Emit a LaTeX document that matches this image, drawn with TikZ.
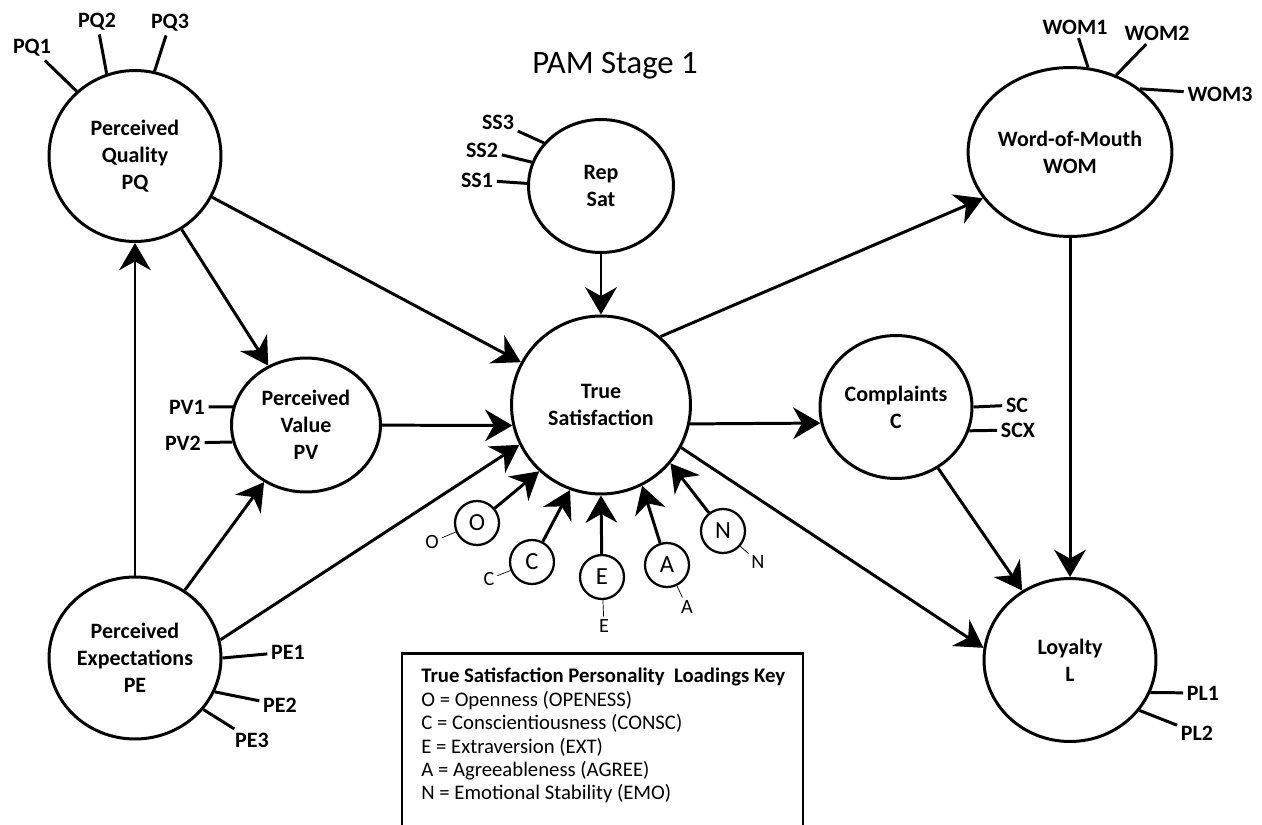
\documentclass[tikz,border=0pt]{standalone}
\usepackage{fontspec}
\setmainfont{Carlito}
\usetikzlibrary{positioning,shapes.geometric,arrows.meta}
\def\lw{1.7pt}
\tikzstyle{latent}=[draw,ellipse,line width=\lw,inner sep=0pt,align=center,font=\bfseries\fontsize{12.5}{15.4}\selectfont]
\tikzstyle{trait}=[draw,circle,line width=1.3pt,minimum size=0.88cm,inner sep=0pt,font=\fontsize{14}{16}\selectfont]
\tikzstyle{indic}=[inner sep=2pt,font=\bfseries\fontsize{12.5}{15}\selectfont]
\tikzstyle{tagtxt}=[inner sep=1.5pt,font=\fontsize{11.5}{13}\selectfont]
\newcommand{\newLatent}[4]{\node[latent,#3](#1) at #4 {#2};}
\newcommand{\newIndic}[4]{\node[indic](#1) at #3 {#2}; \draw[line width=\lw] (#1) -- (#4);}
\newcommand{\newTrait}[4]{\node[trait](tr#1) at #3 {#2}; \node[tagtxt](tg#1) at #4 {#2}; \draw[thin] (tr#1) -- (tg#1);}
\newcommand{\newPath}[3]{\draw[->,line width=\lw,#3] (#1) -- (#2);}

\begin{document}
\begin{tikzpicture}[x=0.02cm,y=-0.02cm,
      >={Stealth[length=15.5pt,width=18pt,inset=5pt]}
      ]
      \useasboundingbox (0,0) rectangle (1262,825);
      \node[font=\fontsize{18.6}{20}\selectfont] (title) at (615,66) {PAM Stage 1};
      % latent variables
      \newLatent{PQ}{Perceived\\Quality\\PQ}{minimum width=3.44cm,minimum height=3.42cm}{(135,156)}
      \newLatent{RS}{Rep\\Sat}{minimum width=2.9cm,minimum height=2.66cm}{(601,186)}
      \newLatent{TS}{True\\Satisfaction}{minimum width=3.58cm,minimum height=3.56cm}{(601,405)}
      \newLatent{PV}{Perceived\\Value\\PV}{minimum width=2.98cm,minimum height=2.68cm}{(306,425)}
      \newLatent{PE}{Perceived\\Expectations\\PE}{minimum width=3.44cm,minimum height=3.24cm}{(135,658)}
      \newLatent{WOM}{Word-of-Mouth\\WOM}{minimum width=3.42cm,minimum height=3.38cm}{(1070,152)}
      \newLatent{CO}{Complaints\\C}{minimum width=3.04cm,minimum height=2.86cm}{(896,407)}
      \newLatent{LO}{Loyalty\\L}{minimum width=3.44cm,minimum height=3.26cm}{(1070,660)}
      % indicators
      \newIndic{PQ1}{PQ1}{(32,48)}{PQ.132}
      \newIndic{PQ2}{PQ2}{(97,22)}{PQ.109}
      \newIndic{PQ3}{PQ3}{(170,23)}{PQ.77}
      \newIndic{SS3}{SS3}{(498,122)}{RS.143}
      \newIndic{SS2}{SS2}{(482,150)}{RS.161}
      \newIndic{SS1}{SS1}{(477,180)}{RS.178}
      \newIndic{WOM1}{WOM1}{(1075,27)}{WOM.78}
      \newIndic{WOM2}{WOM2}{(1157,33)}{WOM.59}
      \newIndic{WOM3}{WOM3}{(1220,94)}{WOM.42}
      \newIndic{PV1}{PV1}{(187,407)}{PV.166}
      \newIndic{PV2}{PV2}{(183,443)}{PV.193}
      \newIndic{SC}{SC}{(1017,405)}{CO.0}
      \newIndic{SCX}{SCX}{(1018,430)}{CO.-18}
      \newIndic{PL1}{PL1}{(1203,693)}{LO.-22}
      \newIndic{PL2}{PL2}{(1197,733)}{LO.-36}
      \newIndic{PE1}{PE1}{(288,652)}{PE.0}
      \newIndic{PE2}{PE2}{(280,705)}{PE.-23}
      \newIndic{PE3}{PE3}{(252,740)}{PE.-37}
      % personality traits
      \newTrait{O}{O}{(477,523)}{(432,542)}
      \newTrait{C}{C}{(532,562)}{(489,579)}
      \newTrait{E}{E}{(602,577)}{(604,626)}
      \newTrait{A}{A}{(667,565)}{(687,607)}
      \newTrait{N}{N}{(723,531)}{(758,562)}
      % paths
      \newPath{PE}{PQ}{}
      \newPath{PE}{PV}{}
      \newPath{PE.12}{TS.206}{}
      \newPath{PQ}{PV}{}
      \newPath{PQ}{TS}{}
      \newPath{PV}{TS.193}{}
      \newPath{RS}{TS}{}
      \newPath{TS.49}{WOM.208}{}
      \newPath{TS.-12}{CO.-168}{}
      \newPath{TS.-28}{LO.172}{}
      \newPath{CO}{LO}{}
      \newPath{WOM}{LO}{}
      \newPath{trO}{TS.-133}{}
      \newPath{trC}{TS.-110}{}
      \newPath{trE}{TS.-90}{}
      \newPath{trA}{TS.-63}{}
      \newPath{trN}{TS.-40}{}
      % key
      \draw[line width=\lw] (402,830) |- (803,653) -- (803,830);
      \node[anchor=north west,align=left,inner sep=0pt,font=\fontsize{11.8}{13.3}\selectfont] (key) at (421,668)
        {\textbf{True Satisfaction Personality\ \ Loadings Key}\\
         O = Openness (OPENESS)\\
         C = Conscientiousness (CONSC)\\
         E = Extraversion (EXT)\\
         A = Agreeableness (AGREE)\\
         N = Emotional Stability (EMO)};
    \end{tikzpicture}
\end{document}
